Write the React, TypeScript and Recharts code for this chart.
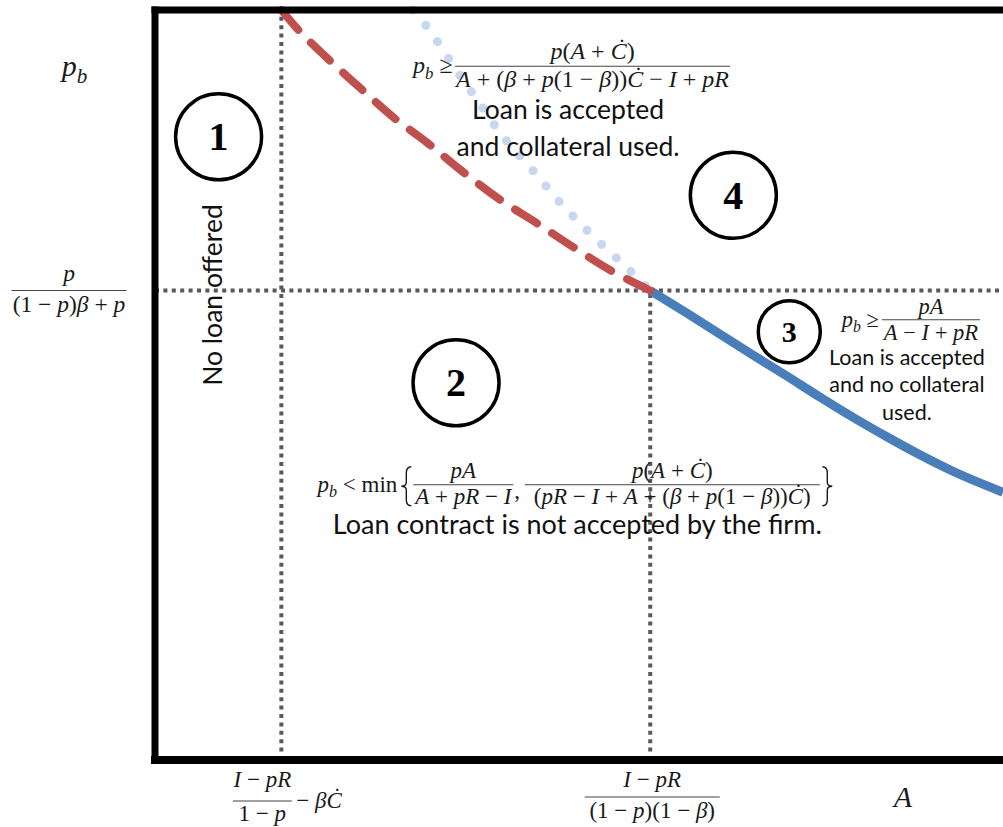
import { Line, LineChart, ReferenceDot, ReferenceLine, XAxis, YAxis } from 'recharts'

// cut-offs on the A axis and on the p_b axis (chart units, 0-100)
const xCutoffs = [14.9, 58.4]
const yCutoff = 62.6

// red dashed boundary: loan accepted with collateral
const collateralA = [14.9, 16.7, 20.3, 24.2, 28.1, 32.1, 36.0, 40.7, 45.0, 49.3, 53.7, 58.4]
const collateralPb = [100, 97.6, 93.6, 89.6, 85.7, 82.3, 78.7, 74.7, 71.6, 68.4, 65.3, 62.6]

// light blue dotted: no-collateral boundary continued above the cut-off
const extensionA = [30.4, 32.1, 33.6, 35.1, 38.0, 41.0, 44.5, 47.8, 51.5, 55.4, 58.4]
const extensionPb = [100, 97.7, 95.3, 92.7, 88.0, 83.2, 78.7, 74.3, 70.0, 65.9, 62.6]

// solid blue boundary: loan accepted, no collateral
const noCollateralA = [58.4, 62.7, 66.6, 70.5, 74.5, 78.4, 82.3, 86.3, 90.2, 94.1, 100]
const noCollateralPb = [62.6, 59.6, 56.8, 54.0, 51.2, 48.4, 45.7, 43.1, 40.7, 38.5, 35.7]

const xTickLabels = [
  { num: 'I − pR', den: '1 − p', tail: '− βĊ' },
  { num: 'I − pR', den: '(1 − p)(1 − β)', tail: '' },
]
const yTickLabel = { num: 'p', den: '(1 − p)β + p' }
const xAxisName = 'A'
const yAxisName = 'p_b'

const regionIds = ['1', '2', '3', '4']
const region1Text = 'No loan offered'
const region2Formula = { lead: 'p_b < min', num1: 'pA', den1: 'A + pR − I', num2: 'p(A + Ċ)', den2: '(pR − I + A + (β + p(1 − β))Ċ)' }
const region2Lines = ['Loan contract is not accepted by the firm.']
const region3Formula = { lead: 'p_b ≥', num: 'pA', den: 'A − I + pR' }
const region3Lines = ['Loan is accepted', 'and no collateral', 'used.']
const region4Formula = { lead: 'p_b ≥', num: 'p(A + Ċ)', den: 'A + (β + p(1 − β))Ċ − I + pR' }
const region4Lines = ['Loan is accepted', 'and collateral used.']

const toPoints = (xs: number[], ys: number[]) => xs.map((x, i) => ({ x, y: ys[i] }))

const MATH_FONT = "'Liberation Serif', 'DejaVu Serif', serif"
const TEXT_FONT = "Lato, 'Open Sans', sans-serif"
const GRID = '#595959'
const INK = '#1a1a1a'

function MathText({ x, y, text, size = 20, anchor = 'middle' }: { x: number; y: number; text: string; size?: number; anchor?: 'start' | 'middle' | 'end' }) {
  const tokens = text.split(/(p_b|min|[A-Za-zβĊ])/).filter((t) => t !== '')
  const sub = size * 0.22
  const out: any[] = []
  let pending = 0
  tokens.forEach((t, i) => {
    const dy = pending || undefined
    pending = 0
    if (t === 'p_b') {
      out.push(<tspan key={`${i}p`} fontStyle='italic' dy={dy}>p</tspan>)
      out.push(<tspan key={`${i}b`} fontStyle='italic' fontSize={size * 0.7} dy={sub}>b</tspan>)
      pending = -sub
    } else if (t === 'min') {
      out.push(<tspan key={i} dy={dy}>min</tspan>)
    } else if (/^[A-Za-zβĊ]$/.test(t)) {
      out.push(<tspan key={i} fontStyle='italic' dy={dy}>{t}</tspan>)
    } else {
      out.push(<tspan key={i} dy={dy}>{t}</tspan>)
    }
  })
  return (
    <text x={x} y={y} textAnchor={anchor} fontFamily={MATH_FONT} fontSize={size} fill={INK} style={{ whiteSpace: 'pre' }}>
      {out}
    </text>
  )
}

function Frac({ x, y, num, den, w, size = 20, up = 7, down = 19 }: { x: number; y: number; num: string; den: string; w: number; size?: number; up?: number; down?: number }) {
  return (
    <g>
      <MathText x={x} y={y - up} text={num} size={size} />
      <line x1={x - w / 2} x2={x + w / 2} y1={y} y2={y} stroke='#444' strokeWidth={1.2} />
      <MathText x={x} y={y + down} text={den} size={size} />
    </g>
  )
}

// curly brace drawn as a path; dir 1 = opening, -1 = closing
function Brace({ x, y1, y2, w, dir }: { x: number; y1: number; y2: number; w: number; dir: 1 | -1 }) {
  const h = y2 - y1
  const mid = (y1 + y2) / 2
  const tip = x
  const arm = x + dir * w
  const stem = x + (dir * w) / 2
  const d = [
    `M ${arm} ${y1}`,
    `Q ${stem} ${y1} ${stem} ${y1 + h * 0.16}`,
    `L ${stem} ${mid - h * 0.1}`,
    `Q ${stem} ${mid} ${tip} ${mid}`,
    `Q ${stem} ${mid} ${stem} ${mid + h * 0.1}`,
    `L ${stem} ${y2 - h * 0.16}`,
    `Q ${stem} ${y2} ${arm} ${y2}`,
  ].join(' ')
  return <path d={d} fill='none' stroke={INK} strokeWidth={1.4} />
}

function Lines({ x, y, lines, size, gap }: { x: number; y: number; lines: string[]; size: number; gap: number }) {
  return (
    <text x={x} y={y} textAnchor='middle' fontFamily={TEXT_FONT} fontSize={size} fill='#111'>
      {lines.map((l, i) => (
        <tspan key={i} x={x} dy={i === 0 ? 0 : gap}>{l}</tspan>
      ))}
    </text>
  )
}

const xTickLayout = [
  { dx: -19, bar: 41, up: 14, down: 20, w: 59 },
  { dx: 2, bar: 37, up: 10, down: 21, w: 135 },
]

function XTick(props: any) {
  const { x, y, payload } = props
  const i = xCutoffs.indexOf(payload.value)
  if (i < 0) return null
  const lab = xTickLabels[i]
  const lay = xTickLayout[i]
  return (
    <g>
      <Frac x={x + lay.dx} y={y + lay.bar} num={lab.num} den={lab.den} w={lay.w} size={23} up={lay.up} down={lay.down} />
      {lab.tail && <MathText x={x + 15} y={y + 48} text={lab.tail} size={23} anchor='start' />}
    </g>
  )
}

function YTick(props: any) {
  const { x, y } = props
  return <Frac x={x - 86} y={y} num={yTickLabel.num} den={yTickLabel.den} w={115} size={23.5} up={10} down={21} />
}

function RegionMark({ cx, cy, id, r }: { cx: number; cy: number; id: string; r: number }) {
  const size = r > 35 ? 40 : 30
  return (
    <g>
      <circle cx={cx} cy={cy} r={r} fill='none' stroke='#000' strokeWidth={3.5} />
      <text x={cx} y={cy + size * 0.34} textAnchor='middle' fontFamily={MATH_FONT} fontWeight='bold' fontSize={size} fill='#000'>
        {id}
      </text>
    </g>
  )
}

export default function App() {
  return (
    <div style={{ position: 'absolute', left: 0, top: 0, width: 1003, height: 827, overflow: 'hidden', background: '#fff' }}>
      <LineChart width={1003} height={827} margin={{ top: 10, right: 0, bottom: 0, left: 0 }}>
        <XAxis
          type='number'
          dataKey='x'
          domain={[0, 100]}
          ticks={xCutoffs}
          interval={0}
          height={67}
          axisLine={false}
          tickLine={false}
          tickSize={0}
          tickMargin={0}
          tick={<XTick />}
        />
        <YAxis
          type='number'
          dataKey='y'
          domain={[0, 100]}
          ticks={[yCutoff]}
          width={155}
          axisLine={false}
          tickLine={false}
          tickSize={0}
          tickMargin={0}
          tick={<YTick />}
        />

        <ReferenceLine x={xCutoffs[0]} stroke={GRID} strokeWidth={4} strokeDasharray='4 4.4' />
        <ReferenceLine segment={[{ x: xCutoffs[1], y: 0 }, { x: xCutoffs[1], y: yCutoff }]} stroke={GRID} strokeWidth={4} strokeDasharray='4 4.4' />
        <ReferenceLine y={yCutoff} stroke={GRID} strokeWidth={4} strokeDasharray='4 4.4' />

        <Line
          data={toPoints(extensionA, extensionPb)}
          dataKey='y'
          type='monotone'
          stroke='#c6d7ee'
          strokeWidth={9}
          strokeDasharray='0.1 20'
          strokeLinecap='round'
          dot={false}
          isAnimationActive={false}
        />
        <Line
          data={toPoints(noCollateralA, noCollateralPb)}
          dataKey='y'
          type='monotone'
          stroke='#4a7ebb'
          strokeWidth={9}
          dot={false}
          isAnimationActive={false}
        />
        <Line
          data={toPoints(collateralA, collateralPb)}
          dataKey='y'
          type='monotone'
          stroke='#c0504d'
          strokeWidth={8}
          strokeDasharray='26 18'
          strokeLinecap='round'
          dot={false}
          isAnimationActive={false}
        />

        {/* frame */}
        <ReferenceLine x={0} stroke='#000' strokeWidth={7} strokeLinecap='square' />
        <ReferenceLine y={100} stroke='#000' strokeWidth={7} strokeLinecap='square' />
        <ReferenceLine y={0} stroke='#000' strokeWidth={8} strokeLinecap='square' />

        {/* axis names */}
        <ReferenceDot x={-9.5} y={91.2} r={0} ifOverflow='visible' shape={(p: any) => <MathText x={p.cx} y={p.cy} text={yAxisName} size={30} />} />
        <ReferenceDot x={88.2} y={-6.3} r={0} ifOverflow='visible' shape={(p: any) => <MathText x={p.cx} y={p.cy} text={xAxisName} size={30} />} />

        {/* region markers */}
        <ReferenceDot x={7.5} y={83.1} r={43} shape={(p: any) => <RegionMark cx={p.cx} cy={p.cy} id={regionIds[0]} r={43} />} />
        <ReferenceDot x={35.5} y={50.3} r={43} shape={(p: any) => <RegionMark cx={p.cx} cy={p.cy} id={regionIds[1]} r={43} />} />
        <ReferenceDot x={74.8} y={57.1} r={31} shape={(p: any) => <RegionMark cx={p.cx} cy={p.cy} id={regionIds[2]} r={31} />} />
        <ReferenceDot x={68.2} y={75.3} r={43} shape={(p: any) => <RegionMark cx={p.cx} cy={p.cy} id={regionIds[3]} r={43} />} />

        {/* region 1 */}
        <ReferenceDot
          x={6.7}
          y={62.0}
          r={0}
          shape={(p: any) => (
            <text
              x={p.cx}
              y={p.cy}
              transform={`rotate(-90, ${p.cx}, ${p.cy})`}
              textAnchor='middle'
              dominantBaseline='central'
              fontFamily={TEXT_FONT}
              fontSize={26.5}
              fill='#111'
            >
              {region1Text}
            </text>
          )}
        />

        {/* region 2 */}
        <ReferenceDot
          x={49.8}
          y={36.7}
          r={0}
          shape={(p: any) => (
            <g>
              <MathText x={p.cx - 180} y={p.cy + 7} text={region2Formula.lead} size={23} anchor='end' />
              <Brace x={p.cx - 176} y1={p.cy - 18} y2={p.cy + 21} w={10} dir={1} />
              <Frac x={p.cx - 114} y={p.cy} num={region2Formula.num1} den={region2Formula.den1} w={100} size={23} up={7} down={19} />
              <MathText x={p.cx - 63} y={p.cy + 13} text=',' size={23} anchor='start' />
              <Frac x={p.cx + 95} y={p.cy} num={region2Formula.num2} den={region2Formula.den2} w={295} size={23} up={7} down={19} />
              <Brace x={p.cx + 255} y1={p.cy - 18} y2={p.cy + 21} w={10} dir={-1} />
              <Lines x={p.cx} y={p.cy + 49} lines={region2Lines} size={27} gap={30} />
            </g>
          )}
        />

        {/* region 3 */}
        <ReferenceDot
          x={91.5}
          y={58.7}
          r={0}
          shape={(p: any) => (
            <g>
              <MathText x={p.cx - 52} y={p.cy + 7} text={region3Formula.lead} size={22.5} anchor='end' />
              <Frac x={p.cx} y={p.cy} num={region3Formula.num} den={region3Formula.den} w={98} size={22.5} up={6} down={20} />
              <Lines x={p.cx - 24} y={p.cy + 45} lines={region3Lines} size={21.5} gap={27.5} />
            </g>
          )}
        />

        {/* region 4 */}
        <ReferenceDot
          x={51.6}
          y={92.5}
          r={0}
          shape={(p: any) => (
            <g>
              <MathText x={p.cx - 140} y={p.cy + 7} text={region4Formula.lead} size={24} anchor='end' />
              <Frac x={p.cx} y={p.cy} num={region4Formula.num} den={region4Formula.den} w={275} size={24} up={7} down={21} />
              <Lines x={p.cx - 24.5} y={p.cy + 53} lines={region4Lines} size={26.5} gap={37} />
            </g>
          )}
        />
      </LineChart>
    </div>
  )
}
